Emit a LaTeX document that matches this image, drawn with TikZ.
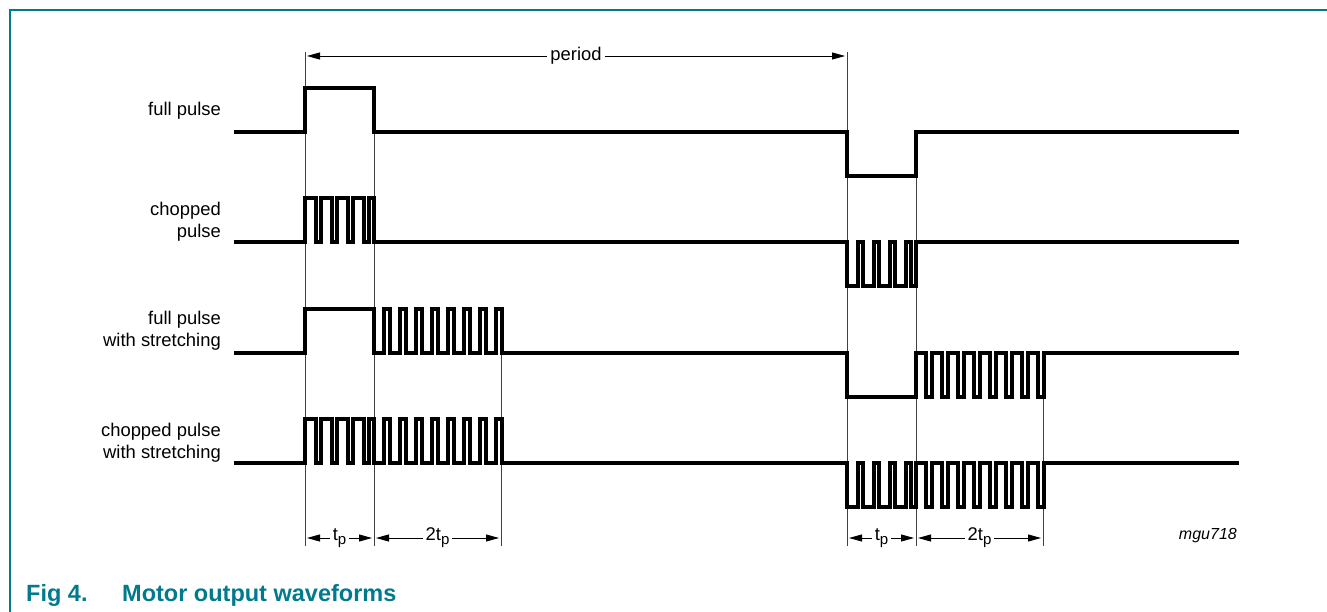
\documentclass[tikz,border=0pt]{standalone}
\usepackage{fontspec}
\setmainfont{Liberation Sans}
\usetikzlibrary{arrows.meta, positioning}
\definecolor{figteal}{RGB}{0,122,140}
\newcommand{\tsub}[1]{\raisebox{-0.4ex}{\fontsize{15}{15}\selectfont #1}}
\tikzset{wave/.style={line width=3.1pt},
         guide/.style={line width=0.9pt,black!75},
         dimarrow/.style={{Triangle[length=13pt,width=7pt]}-{Triangle[length=13pt,width=7pt]},line width=0.9pt,shorten <=2pt,shorten >=2pt},
         lbl/.style={anchor=east,align=right,inner sep=0pt,font=\fontsize{18.4}{22}\selectfont},
         dimlbl/.style={fill=white,inner sep=3pt,font=\fontsize{18.4}{22}\selectfont},
         caption/.style={anchor=base west,inner sep=0pt,text=figteal,font=\bfseries\fontsize{23.5}{28}\selectfont},
         frame/.style={line width=1.3pt,figteal}}

\begin{document}
\begin{tikzpicture}[x=1pt,y=-1pt]
    \useasboundingbox (0,0) rectangle (1327,612);
    \draw[frame] (10,612) -- (10,10) -- (1327,10);
    % guide lines
    \coordinate (atop) at (305,52);   \coordinate (adim) at (305,538);  \coordinate (abot) at (305,546);
    \coordinate (btop) at (374,132);  \coordinate (bdim) at (374,538);  \coordinate (bbot) at (374,546);
    \coordinate (ctop) at (501,353);  \coordinate (cdim) at (501,538);  \coordinate (cbot) at (501,546);
    \coordinate (dtop) at (847,52);   \coordinate (ddim) at (847,538);  \coordinate (dbot) at (847,546);
    \coordinate (etop) at (916,132);  \coordinate (edim) at (916,538);  \coordinate (ebot) at (916,546);
    \coordinate (ftop) at (1043,353); \coordinate (fdim) at (1043,538); \coordinate (fbot) at (1043,546);
    \foreach \n in {a,b,c,d,e,f} {\draw[guide] (\n top) -- (\n bot);}
    \coordinate (pl) at (305,56);
    \coordinate (pr) at (847,56);
    % labels
    \node (lfull) [lbl] at (221,111) {full pulse};
    \node (lchop) [lbl] at (221,222) {chopped\\pulse};
    \node (lfullst) [lbl] at (221,331) {full pulse\\with stretching};
    \node (lchopst) [lbl] at (221,443) {chopped pulse\\with stretching};
    % waveforms
    \draw[wave] (234,132) -- (305,132) -- (305,88) -- (374,88) -- (374,132)
      -- (847,132) -- (847,176) -- (916,176) -- (916,132) -- (1239,132);
    \draw[wave] (234,242)
      \foreach \k in {0,...,3} { -- ({305+16*\k},242) -- ({305+16*\k},198) -- ({316+16*\k},198) -- ({316+16*\k},242) }
      -- (369,242) -- (369,198) -- (374,198) -- (374,242)
      \foreach \k in {0,...,3} { -- ({847+16*\k},242) -- ({847+16*\k},286) -- ({858+16*\k},286) -- ({858+16*\k},242) }
      -- (911,242) -- (911,286) -- (916,286) -- (916,242) -- (1239,242);
    \draw[wave] (234,353) -- (305,353) -- (305,309) -- (374,309) -- (374,353)
      \foreach \k in {0,...,7} { -- ({384+16*\k},353) -- ({384+16*\k},309) -- ({390+16*\k},309) -- ({390+16*\k},353) }
      -- (847,353) -- (847,397) -- (916,397) -- (916,353)
      \foreach \k in {0,...,7} { -- ({926+16*\k},353) -- ({926+16*\k},397) -- ({932+16*\k},397) -- ({932+16*\k},353) }
      -- (1239,353);
    \draw[wave] (234,463)
      \foreach \k in {0,...,3} { -- ({305+16*\k},463) -- ({305+16*\k},419) -- ({316+16*\k},419) -- ({316+16*\k},463) }
      -- (369,463) -- (369,419) -- (374,419) -- (374,463)
      \foreach \k in {0,...,7} { -- ({384+16*\k},463) -- ({384+16*\k},419) -- ({390+16*\k},419) -- ({390+16*\k},463) }
      \foreach \k in {0,...,3} { -- ({847+16*\k},463) -- ({847+16*\k},507) -- ({858+16*\k},507) -- ({858+16*\k},463) }
      -- (911,463) -- (911,507) -- (916,507) -- (916,463)
      \foreach \k in {0,...,7} { -- ({926+16*\k},463) -- ({926+16*\k},507) -- ({932+16*\k},507) -- ({932+16*\k},463) }
      -- (1239,463);
    % dimensions
    \draw[dimarrow] (pl) -- (pr) node[dimlbl,midway] (per) {period};
    \draw[dimarrow] (adim) -- (bdim) node[dimlbl,midway] (tpa) {t\tsub{p}};
    \draw[dimarrow] (bdim) -- (cdim) node[dimlbl,midway] (ttpa) {2t\tsub{p}};
    \draw[dimarrow] (ddim) -- (edim) node[dimlbl,midway] (tpb) {t\tsub{p}};
    \draw[dimarrow] (edim) -- (fdim) node[dimlbl,midway] (ttpb) {2t\tsub{p}};
    \node (code) [anchor=east,inner sep=0pt,font=\itshape\fontsize{16}{19}\selectfont] at (1237,536) {mgu718};
    % caption
    \node (fignum) [caption] at (26,601) {Fig 4.};
    \node (figtitle) [caption] at (122,601) {Motor output waveforms};
\end{tikzpicture}
\end{document}
